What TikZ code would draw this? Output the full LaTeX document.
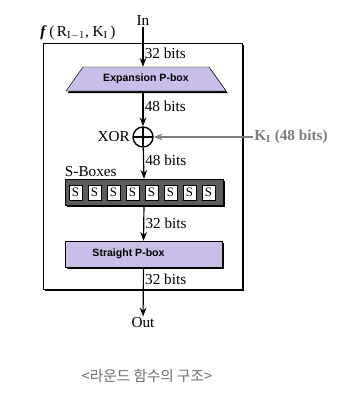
\documentclass[tikz,border=0pt]{standalone}
\usepackage{fontspec}
\setmainfont{Liberation Serif}
\setsansfont{Liberation Sans}
\newfontfamily\krfont{Noto Sans CJK KR}
\usetikzlibrary{arrows.meta, positioning, shapes.geometric, shadows}
\definecolor{pboxfill}{RGB}{200,190,232}
\definecolor{sboxgray}{RGB}{92,92,92}
\definecolor{keygray}{RGB}{125,125,125}
\definecolor{captiongray}{RGB}{110,110,110}

\begin{document}
\begin{tikzpicture}[>=Stealth, x=0.03cm, y=-0.03cm,
      txt/.style={font=\fontsize{13}{15}\selectfont, inner sep=1pt},
      bits/.style={txt, right, pos=#1},
      shad/.style={drop shadow={shadow xshift=0.05cm, shadow yshift=-0.06cm, fill=black, opacity=1}},
      frame/.style={draw, fill=white, shad, minimum width=5.97cm, minimum height=7.38cm},
      ptext/.style={inner sep=0pt, font=\sffamily\bfseries\fontsize{9}{11}\selectfont},
      pbox/.style={ptext, draw, fill=pboxfill, shad},
      sbank/.style={draw, fill=sboxgray, shad, minimum width=4.74cm, minimum height=0.78cm},
      sbox/.style={draw, fill=white, inner sep=0pt, minimum width=0.39cm, minimum height=0.45cm,
                   font=\fontsize{11}{12}\selectfont},
      xorc/.style={draw, circle, line width=1.2pt, minimum size=0.6cm, inner sep=0pt},
      arr/.style={->, line width=1pt}]
    \useasboundingbox (0,0) rectangle (347,393);
    \node[frame] (fbox) at (142.5,166) {};
    \node[txt, anchor=south west] (flbl) at (39,41)
      {\textbf{\textit{f}}\,(\,R$_{\mathrm{I}-1}$, K$_{\mathrm{I}}$\,)};
    \node[txt] (in) at (143,21) {In};
    % expansion box: trapezium drawn by hand, text node on top
    \coordinate (epc) at (146,79);
    \filldraw[fill=pboxfill, shad] ([shift={(-80,12)}]epc) -- ([shift={(-63,-12)}]epc)
      -- ([shift={(63,-12)}]epc) -- ([shift={(80,12)}]epc) -- cycle;
    \node[ptext, minimum width=4.77cm, minimum height=0.72cm] (epbox) at (epc) {Expansion P-box};
    \node[xorc] (xor) at (143,137) {};
    \draw[line width=1.2pt] ([yshift=-1.5pt]xor.north) -- ([yshift=1.5pt]xor.south)
                            ([xshift=1.5pt]xor.west) -- ([xshift=-1.5pt]xor.east);
    \node[txt, left=1pt of xor] (xorlbl) {XOR};
    \node[txt, text=keygray, font=\bfseries\fontsize{13}{15}\selectfont] (key) at (291,137)
      {K$_{\mathbf{I}}$ (48 bits)};
    \node[sbank] (sbank) at (144,192) {};
    \foreach \i in {0,...,7}
      \node[sbox] (s\i) at (75.5+19*\i,192.5) {S};
    \node[txt, anchor=south west, inner sep=0pt] (sblbl) at ([yshift=2pt]sbank.north west) {S-Boxes};
    \node[pbox, minimum width=4.71cm, minimum height=0.78cm] (spbox) at (143.5,254)
      {\hspace*{-0.9cm}Straight P-box};
    \node[txt] (out) at (143,323) {Out};
    \node[text=captiongray, font=\krfont\fontsize{12.5}{14}\selectfont] (caption) at (147,376)
      {<라운드 함수의 구조>};
    % arrows
    \draw[arr] (in) -- node[bits=0.65]{32 bits} (in |- epbox.north);
    \draw[arr] (in |- epbox.south) -- node[bits=0.42]{48 bits} (xor);
    \draw[arr, keygray] (key) -- (xor);
    \draw[arr] (xor) -- node[bits=0.4]{48 bits} (sbank.north);
    \draw[arr] (sbank.south) -- node[bits=0.5]{32 bits} (spbox.north);
    \draw[arr] (spbox.south) -- node[bits=0.25]{32 bits} (out);
  \end{tikzpicture}
\end{document}
